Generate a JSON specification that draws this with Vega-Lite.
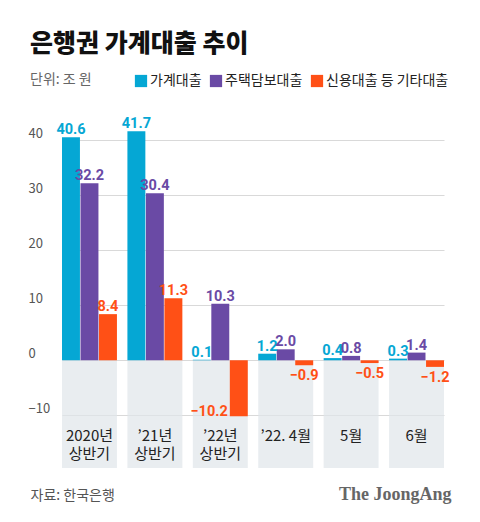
{
  "$schema": "https://vega.github.io/schema/vega-lite/v6.json",
  "width": 422,
  "height": 344,
  "autosize": {"type": "none"},
  "padding": {"left": 28, "top": 124, "right": 30, "bottom": 54},
  "background": "white",
  "title": {
    "text": "은행권 가계대출 추이",
    "subtitle": "단위: 조 원",
    "anchor": "start",
    "frame": "group",
    "font": "Noto Sans CJK KR",
    "fontSize": 25,
    "fontWeight": 900,
    "color": "#111111",
    "subtitleFont": "Noto Sans CJK KR",
    "subtitleFontSize": 14,
    "subtitleColor": "#666666",
    "subtitlePadding": 16,
    "offset": -13,
    "dx": 2
  },
  "config": {"view": {"stroke": null}, "font": "Noto Sans CJK KR"},
  "data": {
    "values": [
      {"period": "2020년\n상반기", "series": "가계대출", "value": 40.6},
      {"period": "2020년\n상반기", "series": "주택담보대출", "value": 32.2},
      {"period": "2020년\n상반기", "series": "신용대출 등 기타대출", "value": 8.4},
      {"period": "’21년\n상반기", "series": "가계대출", "value": 41.7},
      {"period": "’21년\n상반기", "series": "주택담보대출", "value": 30.4},
      {"period": "’21년\n상반기", "series": "신용대출 등 기타대출", "value": 11.3},
      {"period": "’22년\n상반기", "series": "가계대출", "value": 0.1},
      {"period": "’22년\n상반기", "series": "주택담보대출", "value": 10.3},
      {"period": "’22년\n상반기", "series": "신용대출 등 기타대출", "value": -10.2},
      {"period": "’22. 4월", "series": "가계대출", "value": 1.2},
      {"period": "’22. 4월", "series": "주택담보대출", "value": 2.0},
      {"period": "’22. 4월", "series": "신용대출 등 기타대출", "value": -0.9},
      {"period": "5월", "series": "가계대출", "value": 0.4},
      {"period": "5월", "series": "주택담보대출", "value": 0.8},
      {"period": "5월", "series": "신용대출 등 기타대출", "value": -0.5},
      {"period": "6월", "series": "가계대출", "value": 0.3},
      {"period": "6월", "series": "주택담보대출", "value": 1.4},
      {"period": "6월", "series": "신용대출 등 기타대출", "value": -1.2}
    ]
  },
  "encoding": {
    "x": {
      "field": "period",
      "type": "nominal",
      "scale": {
        "domain": ["2020년\n상반기", "’21년\n상반기", "’22년\n상반기", "’22. 4월", "5월", "6월"],
        "range": [34, 416],
        "paddingInner": 0.16,
        "paddingOuter": 0
      },
      "axis": {
        "labels": false,
        "ticks": false,
        "domain": false,
        "grid": false,
        "title": "자료: 한국은행",
        "titleX": 2,
        "titleY": 27,
        "titleAlign": "left",
        "titleAnchor": "start",
        "titleBaseline": "middle",
        "titleFont": "Noto Sans CJK KR",
        "titleFontSize": 14,
        "titleFontWeight": "normal",
        "titleColor": "#555555"
      }
    }
  },
  "layer": [
    {
      "transform": [{"filter": "datum.series === '가계대출'"}],
      "mark": {"type": "rect", "fill": "#dfe5e9", "opacity": 0.7},
      "encoding": {
        "y": {
          "datum": 0,
          "type": "quantitative",
          "scale": {"domain": [-19.6, 43], "nice": false, "zero": false},
          "axis": {
            "values": [-10, 0, 10, 20, 30, 40],
            "grid": true,
            "gridColor": "#d9d9d9",
            "gridWidth": 1,
            "ticks": false,
            "tickSize": 0,
            "domain": false,
            "labelAlign": "left",
            "labelBaseline": "alphabetic",
            "labelPadding": 0,
            "labelOffset": -3,
            "labelFont": "Noto Sans CJK KR",
            "labelFontSize": 13,
            "labelColor": "#555555",
            "title": "The JoongAng",
            "titleAngle": 0,
            "titleX": 423,
            "titleY": 370,
            "titleAlign": "right",
            "titleBaseline": "middle",
            "titleFont": "Liberation Serif",
            "titleFontSize": 18,
            "titleFontWeight": "bold",
            "titleColor": "#666666"
          }
        },
        "y2": {"datum": -19.6}
      }
    },
    {
      "mark": {"type": "bar", "width": {"band": 1}},
      "encoding": {
        "xOffset": {
          "field": "series",
          "type": "nominal",
          "scale": {"domain": ["가계대출", "주택담보대출", "신용대출 등 기타대출"], "paddingInner": 0.03, "paddingOuter": 0}
        },
        "y": {"field": "value", "type": "quantitative"},
        "color": {
          "field": "series",
          "type": "nominal",
          "scale": {
            "domain": ["가계대출", "주택담보대출", "신용대출 등 기타대출"],
            "range": ["#05a7d4", "#6a4aa5", "#ff5016"]
          },
          "legend": {
            "orient": "none",
            "legendX": 106,
            "legendY": -50,
            "direction": "horizontal",
            "title": null,
            "symbolType": "square",
            "symbolSize": 150,
            "symbolStrokeWidth": 0,
            "symbolOpacity": 1,
            "labelFont": "Noto Sans CJK KR",
            "labelFontSize": 14,
            "labelColor": "#222222",
            "labelOffset": 2,
            "columnPadding": 7
          }
        }
      }
    },
    {
      "transform": [{"filter": "datum.value >= 0"}],
      "mark": {"type": "text", "font": "Roboto", "fontSize": 14.5, "fontWeight": "bold", "baseline": "alphabetic", "dy": -3},
      "encoding": {
        "xOffset": {"field": "series", "type": "nominal"},
        "y": {"field": "value", "type": "quantitative"},
        "text": {"field": "value", "type": "quantitative", "format": ".1f"},
        "color": {"field": "series", "type": "nominal"}
      }
    },
    {
      "transform": [{"filter": "datum.value < 0 && datum.value > -5"}],
      "mark": {"type": "text", "font": "Roboto", "fontSize": 14.5, "fontWeight": "bold", "baseline": "top", "dy": 4},
      "encoding": {
        "xOffset": {"field": "series", "type": "nominal"},
        "y": {"field": "value", "type": "quantitative"},
        "text": {"field": "value", "type": "quantitative", "format": ".1f"},
        "color": {"field": "series", "type": "nominal"}
      }
    },
    {
      "transform": [{"filter": "datum.value <= -5"}],
      "mark": {"type": "text", "font": "Roboto", "fontSize": 14.5, "fontWeight": "bold", "baseline": "alphabetic", "align": "right", "dx": -11},
      "encoding": {
        "xOffset": {"field": "series", "type": "nominal"},
        "y": {"field": "value", "type": "quantitative"},
        "text": {"field": "value", "type": "quantitative", "format": ".1f"},
        "color": {"field": "series", "type": "nominal"}
      }
    },
    {
      "transform": [{"filter": "datum.series === '가계대출'"}],
      "mark": {"type": "text", "fontSize": 15, "color": "#222222", "baseline": "top", "lineBreak": "\n", "lineHeight": 18},
      "encoding": {
        "y": {"datum": -12.5},
        "text": {"field": "period", "type": "nominal"}
      }
    },
    {
      "mark": {"type": "rule", "color": "#000000", "strokeWidth": 1.2},
      "encoding": {"y": {"datum": 0}}
    }
  ]
}
